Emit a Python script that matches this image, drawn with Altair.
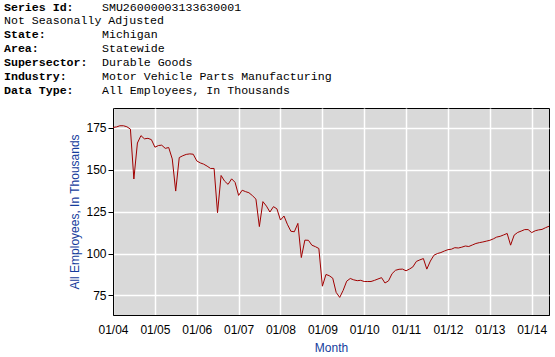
import altair as alt
import pandas as pd

# ---- data (monthly, thousands) ----
years = list(range(2004, 2015))
values_by_year = {
    2004: [175.3, 175.6, 176.3, 176.3, 175.7, 174.3, 144.5, 166.0, 170.4, 168.5, 168.8, 168.0],
    2005: [163.5, 164.5, 164.7, 162.8, 163.3, 156.5, 137.3, 157.3, 158.4, 159.2, 159.5, 159.3],
    2006: [155.3, 154.1, 153.4, 152.2, 150.8, 150.8, 124.4, 146.6, 143.2, 141.3, 144.6, 142.5],
    2007: [134.7, 137.8, 137.0, 136.3, 134.6, 132.5, 116.1, 131.0, 128.3, 124.8, 128.0, 126.7],
    2008: [120.0, 122.4, 117.5, 113.3, 113.0, 118.0, 97.6, 108.0, 107.9, 105.0, 104.1, 103.0],
    2009: [80.5, 87.5, 86.8, 85.3, 76.8, 73.8, 78.0, 83.5, 85.1, 84.3, 83.8, 84.0],
    2010: [83.3, 83.3, 83.3, 84.0, 84.8, 85.6, 82.4, 83.7, 88.0, 90.0, 90.6, 90.7],
    2011: [89.7, 90.8, 92.0, 95.3, 96.2, 97.0, 90.7, 95.5, 99.0, 100.0, 100.6, 101.5],
    2012: [102.3, 102.6, 103.5, 103.3, 103.8, 104.5, 104.2, 105.1, 106.0, 106.5, 106.9, 107.4],
    2013: [107.9, 108.8, 109.8, 110.3, 111.1, 112.0, 105.0, 111.0, 112.6, 113.4, 114.3, 114.3],
    2014: [112.5, 113.6, 114.1, 114.4, 115.4, 116.3],
}
y_ticks = [75, 100, 125, 150, 175]
x_tick_years = list(range(2004, 2015))

header_rows = [0, 2, 3, 4, 5, 6]
header_labels = ["Series Id:", "State:", "Area:", "Supersector:", "Industry:", "Data Type:"]
header_values = ["SMU26000003133630001", "Michigan", "Statewide", "Durable Goods",
                 "Motor Vehicle Parts Manufacturing", "All Employees, In Thousands"]
header_note = "Not Seasonally Adjusted"

dates, vals = [], []
for yr in years:
    for i, v in enumerate(values_by_year[yr]):
        dates.append(f"{yr}-{i + 1:02d}-01T00:00:00")
        vals.append(v)
df = pd.DataFrame({"date": dates, "value": vals})
hdr = pd.DataFrame({"row": header_rows, "label": header_labels, "value": header_values})
note = pd.DataFrame({"row": [1], "label": [header_note]})

BLUE = "#153c9c"
MONO = "Liberation Mono"
SANS = "Liberation Sans"

line = alt.Chart(df).mark_line(color="#a00000", strokeWidth=1).encode(
    x=alt.X(
        "date:T",
        scale=alt.Scale(domain=[alt.DateTime(year=2004, month=1, date=1),
                                alt.DateTime(year=2014, month=6, date=1)], nice=False),
        axis=alt.Axis(values=[alt.DateTime(year=y, month=1, date=1) for y in x_tick_years],
                      format="%m/%y", title="Month", ticks=False, tickSize=0,
                      labelOverlap=False, labelFlush=False,
                      labelPadding=9, titlePadding=7),
    ),
    y=alt.Y(
        "value:Q",
        scale=alt.Scale(domain=[63.3, 186.9], nice=False, zero=False),
        axis=alt.Axis(values=y_ticks, title="All Employees, In Thousands",
                      tickSize=5, labelPadding=2, titlePadding=4),
    ),
)

hy = alt.Y("row:Q", scale=alt.Scale(domain=[0, 6], range=[-100.5, -17.1]), axis=None)

labels_layer = alt.Chart(hdr).mark_text(
    font=MONO, fontSize=11.6, fontWeight="bold", align="left", baseline="middle", color="black"
).encode(x=alt.value(-109), y=hy, text="label:N")

values_layer = alt.Chart(hdr).mark_text(
    font=MONO, fontSize=11.6, align="left", baseline="middle", color="black"
).encode(x=alt.value(-11), y=hy, text="value:N")

note_layer = alt.Chart(note).mark_text(
    font=MONO, fontSize=11.6, align="left", baseline="middle", color="black"
).encode(x=alt.value(-109), y=hy, text="label:N")

chart = (
    alt.layer(line, labels_layer, values_layer, note_layer)
    .resolve_scale(y="independent")
    .properties(width=436, height=207, autosize=alt.AutoSizeParams(type="none"),
                padding={"left": 113, "top": 108, "right": 6, "bottom": 42},
                background="white")
    .configure_view(fill="#d9d9d9", stroke="black", strokeWidth=1)
    .configure_axis(
        domainColor="black", domainWidth=1, tickColor="black",
        gridColor="white", gridWidth=1.5, grid=True,
        labelFont=SANS, labelFontSize=12, labelColor="black",
        titleFont=SANS, titleFontSize=12, titleFontWeight="normal", titleColor=BLUE,
    )
)

chart.save("out.html", embed_options={"renderer": "svg", "actions": False})
